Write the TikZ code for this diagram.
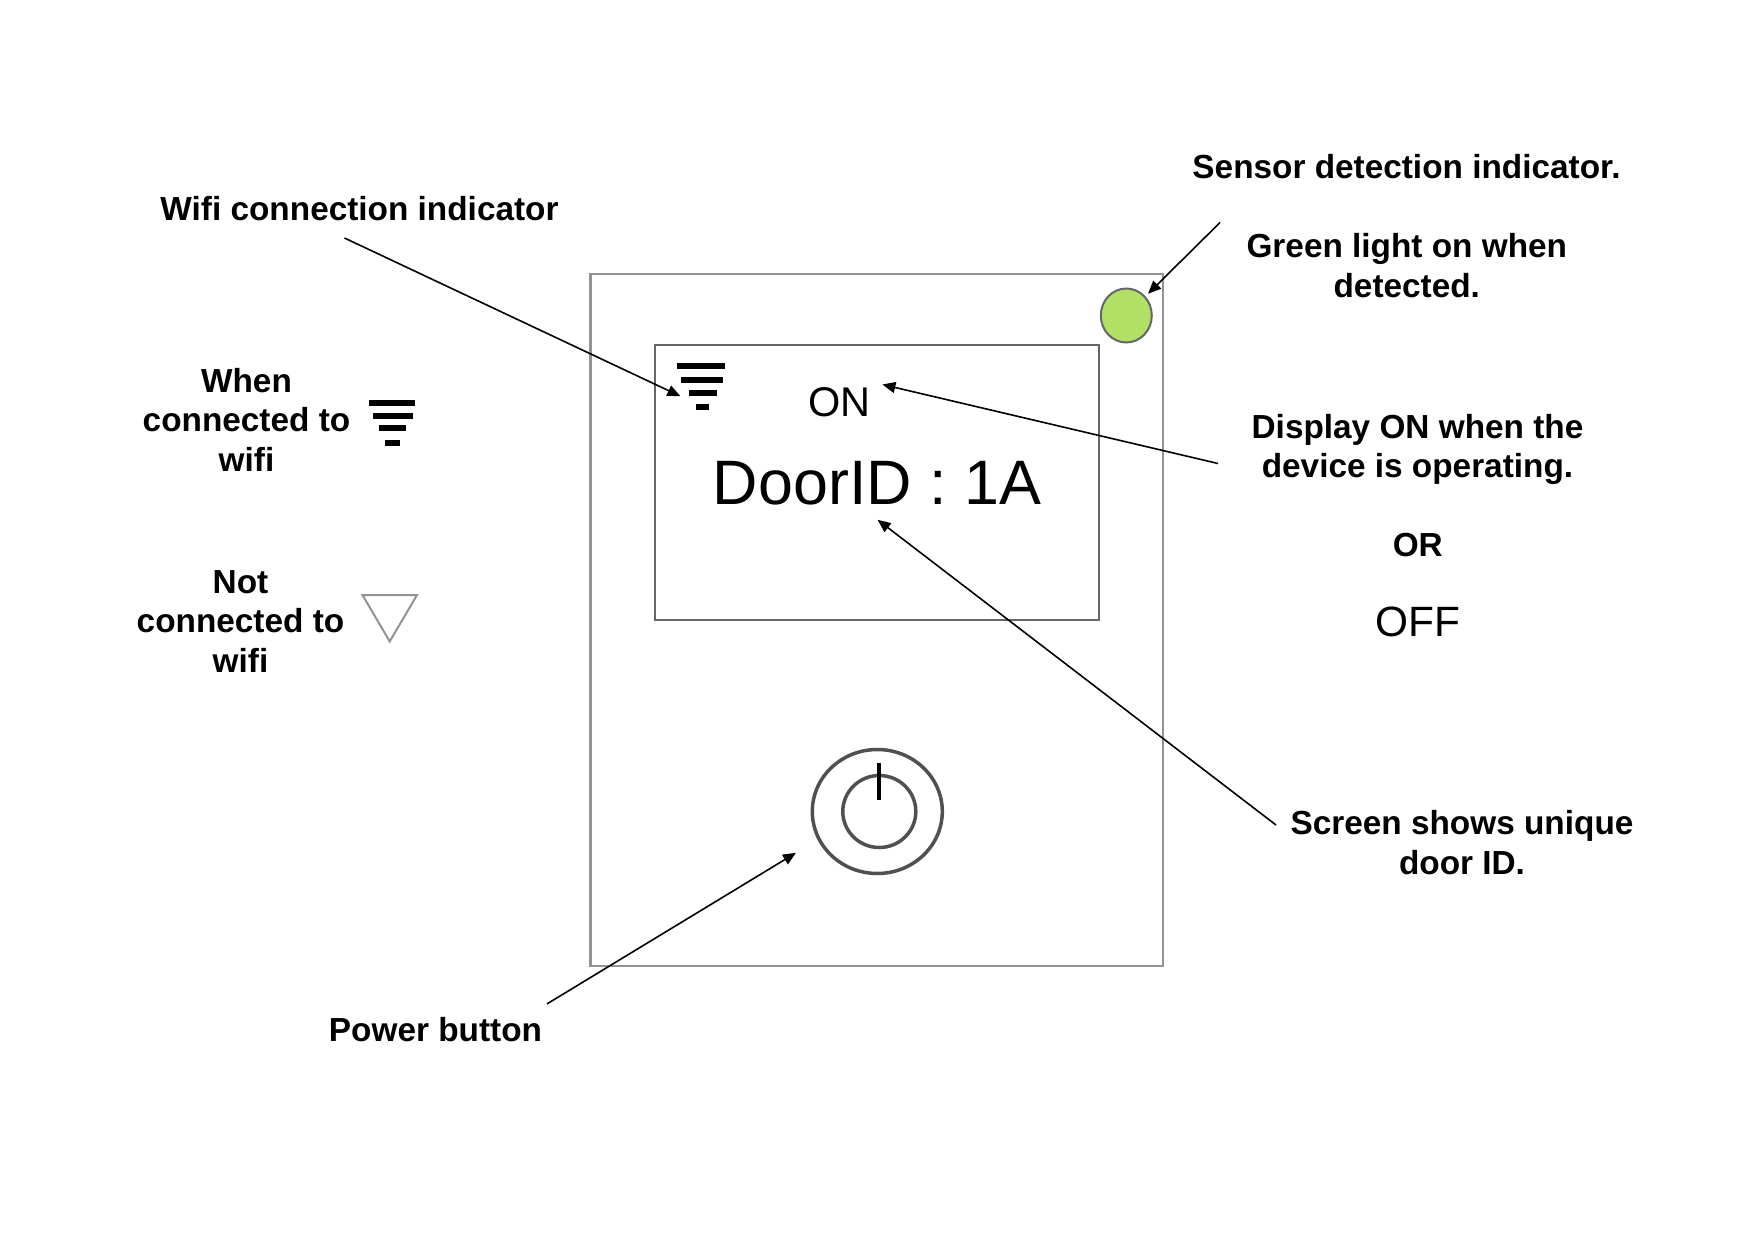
\documentclass[tikz,border=0pt]{standalone}
\usepackage{fontspec}
\setmainfont{Liberation Sans}
\usetikzlibrary{arrows.meta,shapes.geometric}
\definecolor{boxgray}{RGB}{145,147,151}
\definecolor{screengray}{RGB}{100,102,106}
\definecolor{ringgray}{RGB}{80,80,80}
\definecolor{ledgreen}{RGB}{178,224,100}
\tikzset{
  x=1pt,y=-1pt,
  lab/.style={inner sep=0pt,align=center,font=\fontsize{33.35}{39.5}\selectfont\bfseries},
  plain/.style={inner sep=0pt,align=center,font=\fontsize{#1}{#1}\selectfont},
  pointer/.style={draw=black,line width=1.6pt,-{Triangle[length=13pt,width=11pt]}},
  wifibar/.style={fill=black,draw=none},
}
\begin{document}
\begin{tikzpicture}
\useasboundingbox[fill=white] (0,0) rectangle (1754,1239);
% device
\node (body) [draw=boxgray,line width=2.4pt,minimum width=572.5pt,minimum height=692pt,inner sep=0pt] at (876.75,620) {};
\node (lcd) [draw=screengray,line width=2.4pt,minimum width=444pt,minimum height=275pt,inner sep=0pt] at (877,482.2) {};
\node (led) [ellipse,draw=screengray,line width=2pt,fill=ledgreen,minimum width=51pt,minimum height=54pt,inner sep=0pt] at (1126.3,315.5) {};
% wifi icon in screen
\fill[wifibar] (677,362.5) rectangle (725,368.5);
\fill[wifibar] (681,377) rectangle (723,383);
\fill[wifibar] (689,389.5) rectangle (717,395.5);
\fill[wifibar] (696,403.5) rectangle (708.6,409.5);
% legend wifi icon
\fill[wifibar] (368.7,399.8) rectangle (414.7,405.8);
\fill[wifibar] (373,412.5) rectangle (412.7,418.5);
\fill[wifibar] (379,424.5) rectangle (406,430.5);
\fill[wifibar] (385,439.5) rectangle (400,445.5);
\draw[boxgray,line width=2pt,line join=miter] (362.5,595) -- (417,595) -- (389.7,641.5) -- cycle;
% power button
\draw[ringgray,line width=3.5pt] (877.3,811.5) ellipse [x radius=65,y radius=62];
\draw[ringgray,line width=3.5pt] (879.3,811.5) ellipse [x radius=36.5,y radius=36];
\draw[black,line width=4pt] (879,762.5) -- (879,800);
% texts
\node[plain=41.5] (on) at (839.5,402) {ON};
\node[plain=62.8] (door) at (877,483) {DoorID : 1A};
\node[lab] (wifilab) at (359.5,208.8) {Wifi connection indicator};
\node[lab] (sensor) at (1406.5,166.7) {Sensor detection indicator.};
\node[lab] (green) at (1406.8,265.7) {Green light on when\\detected.};
\node[lab] (display) at (1417.5,449.4) {Display ON when the\\device is operating.};
\node[lab] (orlab) at (1417.8,544.8) {OR};
\node[plain=42.4] (off) at (1418,622) {OFF};
\node[lab] (screen) at (1462,842.5) {Screen shows unique\\door ID.};
\node[lab] (power) at (435.5,1029.5) {Power button};
\node[lab] (when) at (246.5,419.5) {When\\connected to\\wifi};
\node[lab] (notc) at (240.5,621.2) {Not\\connected to\\wifi};
% connector ends
\coordinate (a1) at (344.5,238);
\coordinate (t1) at (680.4,396.2);
\coordinate (a2) at (1220,222.5);
\coordinate (t2) at (1148,293.8);
\coordinate (a3) at (1218,463.5);
\coordinate (t3) at (882.4,384.5);
\coordinate (a4) at (1276,825);
\coordinate (t4) at (877.6,519.8);
\coordinate (a5) at (547,1003.9);
\coordinate (t5) at (796,852.8);
\draw[pointer] (a1) -- (t1);
\draw[pointer] (a2) -- (t2);
\draw[pointer] (a3) -- (t3);
\draw[pointer] (a4) -- (t4);
\draw[pointer] (a5) -- (t5);
\end{tikzpicture}
\end{document}
